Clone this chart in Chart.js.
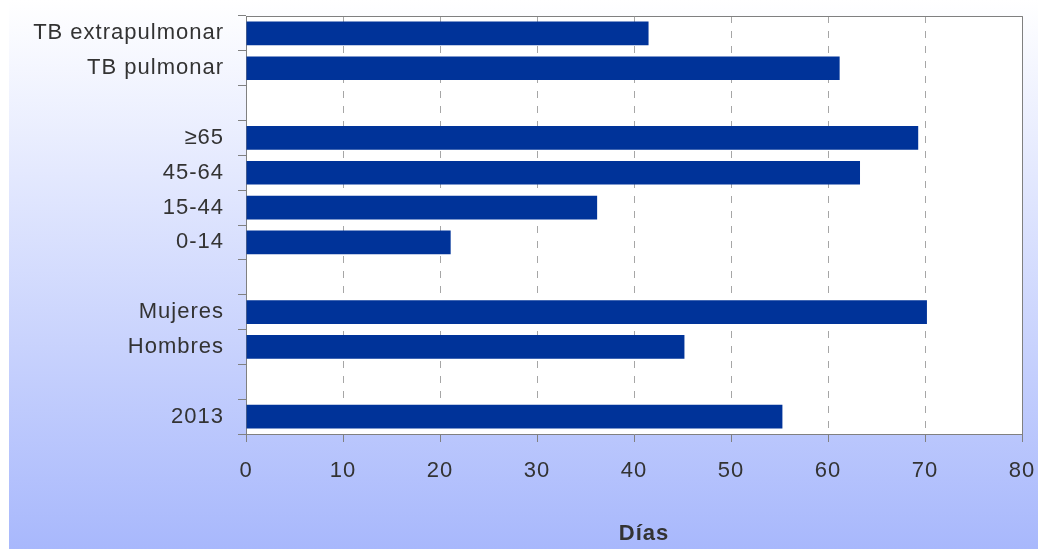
<!DOCTYPE html>
<html>
<head>
<meta charset="utf-8">
<script src="https://cdn.jsdelivr.net/npm/chart.js@4/dist/chart.umd.min.js"></script>
<style>
    html, body { margin: 0; padding: 0; background: #ffffff; }
    #wrap {
        position: absolute;
        left: 9px;
        top: 0;
        width: 1029px;
        height: 549px;
        background: linear-gradient(to bottom, #ffffff 0%, #a8b8fc 100%);
    }
    #chart { display: block; }
</style>
</head>
<body>
<div id="wrap"><canvas id="chart" width="1029" height="549"></canvas></div>
<script>
// Rows top to bottom; empty strings are spacer rows between groups
const categories = ['TB extrapulmonar', 'TB pulmonar', '', '\u226565', '45-64', '15-44', '0-14', '', 'Mujeres', 'Hombres', '', '2013'];
const dias = [41.5, 61.2, null, 69.3, 63.3, 36.2, 21.1, null, 70.2, 45.2, null, 55.3];
const xTicks = [0, 10, 20, 30, 40, 50, 60, 70, 80];
const xTitle = 'D\u00edas';

const textColor = '#333333';
const axisColor = '#808080';

// White plot area with a thin frame, plus slightly wider letter spacing
const plotFrame = {
    id: 'plotFrame',
    beforeDraw(chart) {
        const { ctx, chartArea: a } = chart;
        ctx.letterSpacing = '1px';
        ctx.save();
        ctx.fillStyle = '#ffffff';
        ctx.fillRect(a.left, a.top, a.right - a.left, a.bottom - a.top);
        ctx.restore();
    },
    afterDraw(chart) {
        const { ctx, chartArea: a } = chart;
        ctx.save();
        ctx.strokeStyle = axisColor;
        ctx.lineWidth = 1;
        ctx.beginPath();
        ctx.moveTo(Math.round(a.left) + 0.5, Math.round(a.top) + 0.5);
        ctx.lineTo(Math.round(a.right) + 0.5, Math.round(a.top) + 0.5);
        ctx.lineTo(Math.round(a.right) + 0.5, Math.round(a.bottom) + 0.5);
        ctx.stroke();
        ctx.restore();
    }
};

// Axis caption centred between the plot's left edge and the canvas' right edge
const axisCaption = {
    id: 'axisCaption',
    afterDraw(chart) {
        const { ctx, chartArea: a } = chart;
        ctx.save();
        ctx.font = 'bold 22px "Liberation Sans", Arial, sans-serif';
        ctx.fillStyle = textColor;
        ctx.textAlign = 'center';
        ctx.textBaseline = 'middle';
        ctx.fillText(xTitle, (a.left + chart.width) / 2 + 2, 534);
        ctx.restore();
    }
};

new Chart(document.getElementById('chart'), {
    type: 'bar',
    data: {
        labels: categories,
        datasets: [{
            label: xTitle,
            data: dias,
            backgroundColor: '#003399',
            borderWidth: 0,
            barPercentage: 0.68,
            categoryPercentage: 1
        }]
    },
    options: {
        indexAxis: 'y',
        responsive: false,
        animation: false,
        layout: { padding: { top: 16, right: 16, bottom: 0, left: 0 } },
        plugins: {
            legend: { display: false },
            tooltip: { enabled: false }
        },
        scales: {
            x: {
                min: 0,
                max: 80,
                afterBuildTicks(scale) {
                    scale.ticks = xTicks.map(v => ({ value: v }));
                },
                afterFit(scale) {
                    scale.height = 115;
                    scale.paddingLeft = 0;
                    scale.paddingRight = 0;
                },
                grid: {
                    color: '#a6a6a6',
                    tickColor: axisColor,
                    tickLength: 8,
                    lineWidth: 1
                },
                border: { color: axisColor, dash: [7, 8], display: true },
                ticks: {
                    color: textColor,
                    padding: 16,
                    font: { family: '"Liberation Sans", Arial, sans-serif', size: 22 }
                }
            },
            y: {
                afterFit(scale) {
                    scale.width = 237;
                    scale.paddingTop = 0;
                    scale.paddingBottom = 0;
                },
                grid: {
                    offset: true,
                    drawOnChartArea: false,
                    tickColor: axisColor,
                    tickLength: 8
                },
                border: { color: axisColor },
                ticks: {
                    color: textColor,
                    padding: 14,
                    autoSkip: false,
                    font: { family: '"Liberation Sans", Arial, sans-serif', size: 22 }
                }
            }
        }
    },
    plugins: [plotFrame, axisCaption]
});
</script>
</body>
</html>
